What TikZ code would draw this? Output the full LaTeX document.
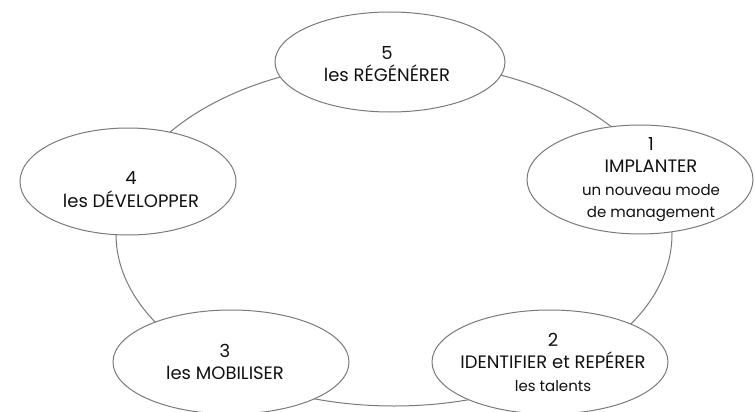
\documentclass[tikz,border=0pt]{standalone}
\usepackage{fontspec}
\setmainfont{Poppins}
\usetikzlibrary{shapes.geometric}
\definecolor{ringgray}{HTML}{7A7A7A}
\definecolor{textgray}{HTML}{111111}
\tikzset{stage/.style={ellipse,draw=ringgray,line width=1pt,fill=white,inner sep=0pt},
         stagetext/.style={align=center,text=textgray,inner sep=0pt,font=\fontsize{18}{22.5}\selectfont}}
\newcommand{\sm}[1]{{\fontsize{15}{19.5}\selectfont #1}}

\begin{document}
\begin{tikzpicture}[x=1pt,y=-1pt]
                \useasboundingbox[fill=white] (0,0) rectangle (755,412);
                % the cycle behind the stages
                \node[ellipse,draw=ringgray,line width=1pt,minimum width=556pt,minimum height=344pt] (ring) at (394,234) {};
                % stages
                \node[stage,minimum width=230pt,minimum height=100pt] (s5) at (390,62) {};
                \node[stage,minimum width=226pt,minimum height=109pt] (s1) at (640,179.5) {};
                \node[stage,minimum width=236pt,minimum height=104pt] (s2) at (550,362) {};
                \node[stage,minimum width=236pt,minimum height=104pt] (s3) at (231,362) {};
                \node[stage,minimum width=216pt,minimum height=107pt] (s4) at (128,181.5) {};
                % labels
                \node[stagetext] (t5) at ([xshift=-3pt,yshift=-2pt]s5.center) {5\\les RÉGÉNÉRER};
                \node[stagetext] (t1) at ([xshift=11pt,yshift=0pt]s1.center) {1\\IMPLANTER\\\sm{un nouveau mode}\\\sm{de management}};
                \node[stagetext] (t2) at ([xshift=3pt]s2.center) {2\\IDENTIFIER et REPÉRER\\\sm{les talents}};
                \node[stagetext] (t3) at ([xshift=-6pt]s3.center) {3\\les MOBILISER};
                \node[stagetext] (t4) at ([xshift=3pt,yshift=-8pt]s4.center) {4\\les DÉVELOPPER};
            \end{tikzpicture}
\end{document}
